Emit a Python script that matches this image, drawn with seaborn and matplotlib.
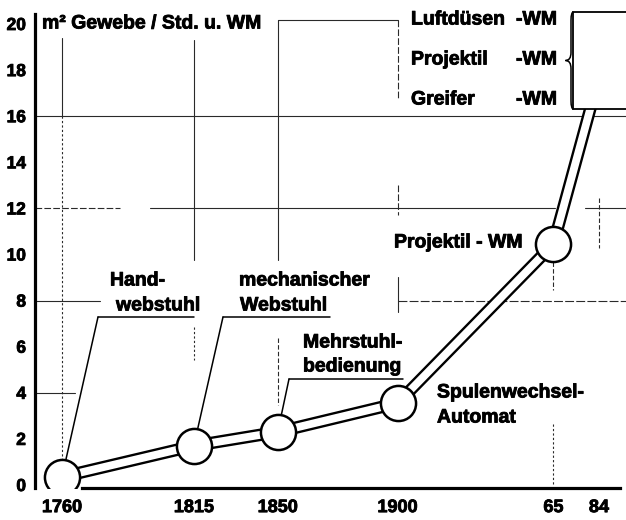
import matplotlib
matplotlib.use("Agg")
import matplotlib.pyplot as plt
import matplotlib.patheffects as pe
import seaborn as sns
import numpy as np
import pandas as pd
from matplotlib.patches import Rectangle, PathPatch
from matplotlib.path import Path

# ---------------- data ----------------
years = [1760, 1815, 1850, 1900, 1965, 1984]
tick_labels = ["1760", "1815", "1850", "1900", "65", "84"]
values = [0.35, 1.7, 2.3, 3.55, 10.45, 17.7]
y_ticks = [0, 2, 4, 6, 8, 10, 12, 14, 16, 18, 20]
modern_names = ["Luftdüsen", "Projektil", "Greifer"]
title = "m² Gewebe / Std. u. WM"

sns.set_style("white")
plt.rcParams["font.family"] = ["Liberation Sans", "DejaVu Sans"]
plt.rcParams["font.weight"] = "bold"
for k in ["text.color", "xtick.color", "ytick.color", "axes.labelcolor", "axes.edgecolor"]:
    plt.rcParams[k] = "black"

W, H = 626, 520
fig = plt.figure(figsize=(W / 100, H / 100), dpi=100)
ax = fig.add_axes([35 / W, 32 / H, 591 / W, 474 / H])

# pixel -> data helpers for annotation placement only
PX_YR = 2.397
PX_UNIT = 23.05
def X(px):
    return 1760 + (px - 62) / PX_YR
def Y(py):
    return (485 - py) / PX_UNIT

ax.set_xlim(X(35), X(626))
ax.set_ylim(Y(488), Y(14))

df = pd.DataFrame({"year": years, "value": values})
heavy = [pe.withStroke(linewidth=0.6, foreground="black")]

# ---------------- grid fragments ----------------
gc = "#2a2a2a"
glw = 0.8
def vseg(x, y0, y1, ls="-"):
    ax.plot([x, x], [y0, y1], color=gc, lw=glw, ls=ls, zorder=1)
def hseg(y, x0, x1, ls="-"):
    ax.plot([x0, x1], [y, y], color=gc, lw=glw, ls=ls, zorder=1, clip_on=False)

vseg(years[0], Y(38), 16)
vseg(years[0], 16, Y(462), ls=(0, (2, 2)))
vseg(years[1], Y(40), Y(260))
vseg(years[1], Y(327), Y(360), ls=(0, (2, 2)))
vseg(years[2], Y(20), Y(260))
vseg(years[2], Y(338), Y(405), ls=(0, (4, 2)))
vseg(years[3], Y(20), Y(100), ls=(0, (6, 2)))
vseg(years[3], Y(185), Y(215), ls=(0, (6, 2)))
vseg(years[3], Y(277), Y(312))
vseg(years[4], Y(262), Y(290), ls=(0, (4, 2)))
vseg(years[4], Y(424), Y(486), ls=(0, (2, 2)))
vseg(years[5], Y(198), Y(248), ls=(0, (4, 2)))

hseg(Y(20), years[2], years[3])
hseg(16, X(35), X(626))
hseg(12, X(35), X(120), ls=(0, (6, 2)))
hseg(12, X(150), X(555))
hseg(12, X(585), X(626))
hseg(8, X(35), X(100))
hseg(8, years[3], X(626), ls=(0, (8, 2)))
hseg(4, X(35), X(75))

# ---------------- main "tube" line ----------------
sns.lineplot(data=df, x="year", y="value", sort=False, color="black",
             lw=9.0, ax=ax, zorder=3, solid_capstyle="butt")
sns.lineplot(data=df, x="year", y="value", sort=False, color="white",
             lw=5.6, ax=ax, zorder=4, solid_capstyle="butt")
sns.scatterplot(data=df.iloc[:5], x="year", y="value", s=640, color="white",
                edgecolor="black", linewidth=1.8, ax=ax, zorder=5)

# box for modern machines
box = Rectangle((X(573), Y(109)), 40, Y(12) - Y(109), facecolor="white",
                edgecolor="black", lw=1.3, zorder=6, clip_on=False)
ax.add_patch(box)

# curly brace
bx, tip = X(571), X(565.5)
top, bot = Y(12), Y(109)
mid = (top + bot) / 2
hx = X(573.5)
verts = [(hx, top), (bx, top), (bx, top - 0.35),
         (bx, mid + 0.35), (bx, mid), (tip, mid),
         (bx, mid), (bx, mid - 0.35),
         (bx, bot + 0.35), (bx, bot), (hx, bot)]
codes = [Path.MOVETO, Path.CURVE3, Path.CURVE3,
         Path.LINETO, Path.CURVE3, Path.CURVE3,
         Path.CURVE3, Path.CURVE3,
         Path.LINETO, Path.CURVE3, Path.CURVE3]
ax.add_patch(PathPatch(Path(verts, codes), facecolor="none", edgecolor="black",
                       lw=1.1, zorder=6, clip_on=False))

# ---------------- axes styling ----------------
for s in ["top", "right"]:
    ax.spines[s].set_visible(False)
ax.spines["left"].set_linewidth(2.3)
ax.spines["bottom"].set_linewidth(2.3)
ax.spines["bottom"].set_bounds(X(82), X(620))
ax.set_xticks(years)
ax.set_xticklabels(tick_labels, fontsize=13, fontweight="bold")
ax.set_yticks(y_ticks)
ax.set_yticklabels([str(v) for v in y_ticks], fontsize=12.5, fontweight="bold")
ax.tick_params(axis="x", direction="out", length=5, width=2.2, pad=3)
ax.tick_params(axis="y", direction="out", length=5, width=2.0, pad=1.5)
for t in ax.get_xticklabels() + ax.get_yticklabels():
    t.set_path_effects(heavy)
ax.set_xlabel("")
ax.set_ylabel("")

# ---------------- texts ----------------
fs = 14
def txt(x, y, s, ha="left"):
    ax.text(x, y, s, fontsize=fs, fontweight="bold", ha=ha, va="center",
            zorder=7, path_effects=heavy)

txt(X(42), Y(24), title)
for name, py in zip(modern_names, [20, 60, 100]):
    txt(X(411), Y(py), name)
    txt(X(557), Y(py), "-WM", ha="right")

txt(X(394), Y(243), "Projektil - WM")
txt(X(437), Y(393), "Spulenwechsel-")
txt(X(437), Y(418), "Automat")

labels = [
    # (line1, x1, y1, line2, x2, y2, underline x0, x1, y, point index)
    ("Hand-", 110, 281, "webstuhl", 116, 306, 98, 194, 317, 0),
    ("mechanischer", 239, 281, "Webstuhl", 240, 306, 223, 330, 317, 1),
    ("Mehrstuhl-", 303, 343, "bedienung", 303, 367, 289, 403, 379, 2),
]
for l1, x1, y1, l2, x2, y2, u0, u1, uy, idx in labels:
    txt(X(x1), Y(y1), l1)
    txt(X(x2), Y(y2), l2)
    ax.plot([X(u0), X(u1)], [Y(uy), Y(uy)], color="black", lw=1.1, zorder=7)
    ax.annotate("", xy=(years[idx], values[idx]), xytext=(X(u0), Y(uy)),
                arrowprops=dict(arrowstyle="-", color="black", lw=1.1,
                                shrinkA=0, shrinkB=12.5), zorder=7)

fig.savefig("out.png", dpi=100)
